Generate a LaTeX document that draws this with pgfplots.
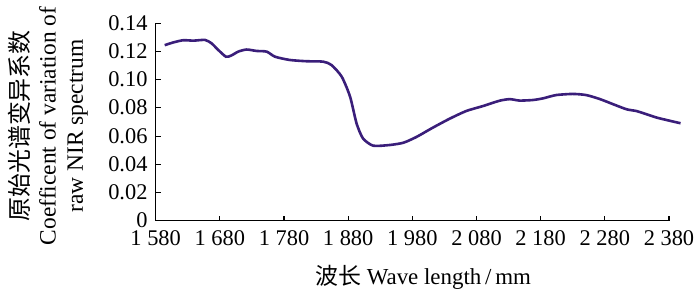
\documentclass[border=0pt]{standalone}
\usepackage{fontspec}
\setmainfont{Liberation Serif}
\newfontfamily\cjk{Noto Sans CJK SC}
\usepackage{pgfplots}
\pgfplotsset{compat=1.18}
\definecolor{curve}{RGB}{58,30,122}
\begin{document}
\begin{tikzpicture}
\begin{axis}[
  scale only axis,
  width=513.3bp, height=197.4bp,
  xmin=1580, xmax=2380, ymin=0, ymax=0.14,
  clip=false,
  axis x line*=bottom, axis y line*=left,
  axis line style={line width=1.2bp, black},
  every tick/.style={line width=1.1bp, black},
  major tick length=5bp,
  tick align=inside,
  xtick={1580,1680,1780,1880,1980,2080,2180,2280,2380},
  xticklabels={1 580,1 680,1 780,1 880,1 980,2 080,2 180,2 280,2 380},
  ytick={0,0.02,0.04,0.06,0.08,0.10,0.12,0.14},
  yticklabels={0,0.02,0.04,0.06,0.08,0.10,0.12,0.14},
  ticklabel style={font=\fontsize{22.5}{25}\selectfont, inner sep=0bp},
  xticklabel style={yshift=-10bp, text height=15bp, text depth=0bp},
  yticklabel style={xshift=-8bp, text height=15bp, text depth=0bp, yshift=0.5bp},
  xlabel={{\cjk\fontsize{23}{26}\selectfont 波长} Wave length\,/\,mm},
  xlabel style={font=\fontsize{23}{26}\selectfont, at={(axis description cs:0.521,-0.285)}, anchor=center},
  ylabel={{\cjk\fontsize{24}{27.5}\selectfont 原始光谱变异系数}\\Coefficent of variation of\\raw NIR spectrum},
  ylabel style={font=\fontsize{23.5}{27.5}\selectfont, align=center, at={(axis description cs:-0.21,0.48)}, anchor=center},
]
\addplot[curve, line width=2.6bp, smooth, tension=0.4] coordinates {
(1594,0.1245) (1608,0.1265) (1623,0.1280) (1639,0.1277) (1657,0.1282)
(1667,0.1258) (1677.5,0.1211) (1689.5,0.1163) (1698,0.1172) (1708.6,0.1199)
(1721.7,0.1214) (1737,0.1204) (1753,0.1199) (1766,0.1163) (1789,0.1140)
(1815,0.1131) (1841,0.1128) (1854,0.1104) (1870,0.1021) (1883,0.0879)
(1893,0.0691) (1903,0.0584) (1919,0.0532) (1945,0.0537) (1966,0.0553)
(1986,0.0593) (2012,0.0660) (2038,0.0723) (2064,0.0778) (2090,0.0813)
(2116,0.0851) (2132,0.0862) (2147,0.0852) (2168,0.0856) (2184,0.0868)
(2204,0.0891) (2230,0.0899) (2251,0.0891) (2272,0.0863) (2293,0.0826)
(2314,0.0790) (2329,0.0778) (2345,0.0755) (2361,0.0731) (2381,0.0709)
(2398,0.0691)
};
\end{axis}
\pgfresetboundingbox
\path[use as bounding box] (-155.7bp,-72.3bp) rectangle (544.3bp,220.7bp);
\end{tikzpicture}
\end{document}
